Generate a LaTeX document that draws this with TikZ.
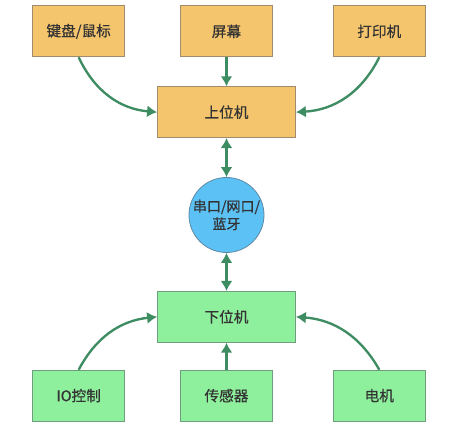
\documentclass[tikz,border=0pt]{standalone}
\usepackage{fontspec}
\setmainfont{Noto Sans CJK SC}
\newfontfamily\labelfont[FakeBold=0.6]{Noto Sans CJK SC}
\usepackage{tikz}
\usetikzlibrary{arrows.meta,positioning}

\definecolor{hostfill}{HTML}{F5C56E}
\definecolor{hostline}{HTML}{A08C6C}
\definecolor{slavefill}{HTML}{8EF09C}
\definecolor{slaveline}{HTML}{6E9E7E}
\definecolor{linkfill}{HTML}{5CC2F6}
\definecolor{linkline}{HTML}{5E8AA6}
\definecolor{arrowgreen}{HTML}{3E8C62}
\definecolor{textgrey}{HTML}{333333}

\begin{document}
\begin{tikzpicture}[
  every node/.style={font=\labelfont\fontsize{12.5}{15}\selectfont, text=textgrey, align=center, line width=0.7pt},
  host/.style={draw=hostline, fill=hostfill, rectangle, minimum width=2.76cm, minimum height=1.53cm},
  slave/.style={draw=slaveline, fill=slavefill, rectangle, minimum width=2.76cm, minimum height=1.53cm},
  link/.style={draw=linkline, fill=linkfill, circle, minimum size=2.25cm, inner sep=0pt},
  tip/.style={Latex[length=3mm,width=3.6mm]},
  conn/.style={draw=arrowgreen, line width=2pt, -{Latex[length=3mm,width=3.6mm]}},
  node distance=1.17cm and 1.7cm
]

% background / margins
\useasboundingbox (-6.795,-6.81) rectangle (7.425,6.45);

% Link
\node[link, font=\labelfont\fontsize{12}{15}\selectfont] (bus) {串口/网口/\\蓝牙};

% Upper level
\node[host, minimum width=4.14cm] (upper) [above=of bus] {上位机};
\node[host] (screen) [above=0.87cm of upper] {屏幕};
\node[host] (keyboard) [left=1.65cm of screen] {键盘/鼠标};
\node[host] (printer) [right=1.8cm of screen] {打印机};

% Lower level
\node[slave, minimum width=4.14cm] (lower) [below=1.14cm of bus] {下位机};
\node[slave] (sensor) [below=0.81cm of lower] {传感器};
\node[slave] (io) [left=1.65cm of sensor] {IO控制};
\node[slave] (motor) [right=1.8cm of sensor] {电机};

% Edges
\draw[conn] (keyboard.south) to[bend right=30] (upper.west);
\draw[conn] (screen) -- (upper);
\draw[conn] (printer.south) to[bend left=30] (upper.east);

\draw[conn, {Latex[length=3mm,width=3.6mm]}-{Latex[length=3mm,width=3.6mm]}] (upper) -- (bus);
\draw[conn, {Latex[length=3mm,width=3.6mm]}-{Latex[length=3mm,width=3.6mm]}] (bus) -- (lower);

\draw[conn] (io.north) to[bend left=28] (lower.west);
\draw[conn] (sensor) -- (lower);
\draw[conn] (motor.north) to[bend right=28] (lower.east);

\end{tikzpicture}
\end{document}
